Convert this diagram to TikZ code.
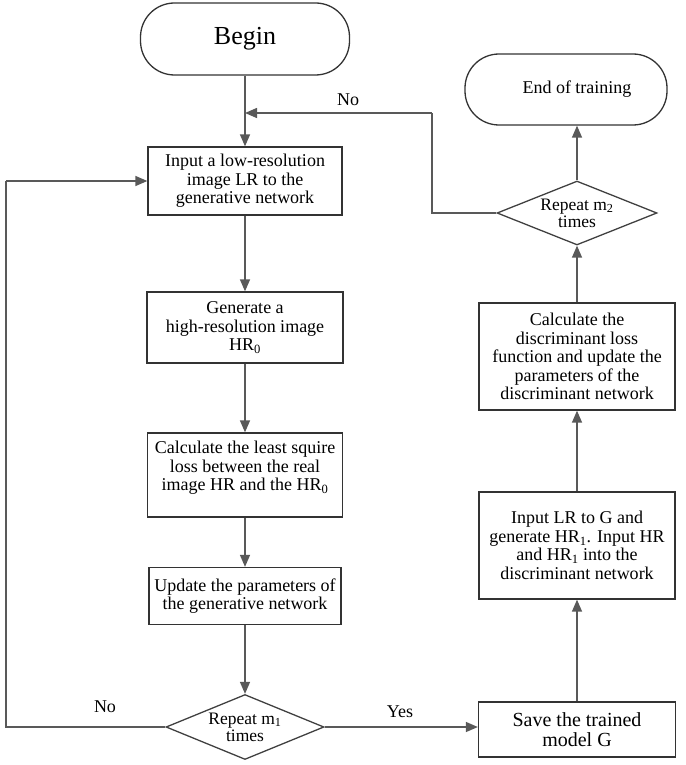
\documentclass[tikz,border=0pt]{standalone}
\usepackage{fontspec}
\setmainfont{Liberation Serif}[Ligatures=TeX]
\usetikzlibrary{arrows.meta,shapes.geometric}
\begin{document}
\begin{tikzpicture}[x=1pt,y=-1pt,
  box/.style={draw=black!80,line width=1.3pt,align=center,inner sep=2pt,font=\fontsize{18}{18.5}\selectfont},
  term/.style={box,rounded corners=34pt},
  dia/.style={draw=black!75,line width=1.3pt,diamond,inner sep=0pt},
  dtext/.style={align=center,font=\fontsize{17.5}{17}\selectfont},
  lbl/.style={font=\fontsize{18}{18}\selectfont},
  conn/.style={draw=black!65,line width=1.4pt},
  arr/.style={conn,-{Triangle[length=12pt,width=10pt]}}]
\useasboundingbox (0,0) rectangle (685,765);
\node[term,minimum width=209pt,minimum height=72pt,font=\fontsize{26}{28}\selectfont] (begin) at (245,39) {Begin};
\node[box,minimum width=194pt,minimum height=68pt] (in1) at (245,181) {Input a low-resolution\\image LR to the\\generative network};
\node[box,minimum width=196pt,minimum height=71pt] (gen) at (245,327.5) {Generate a\\high-resolution image\\HR\textsubscript{0}};
\node[box,minimum width=195pt,minimum height=84pt] (calc) at (245,475) {Calculate the least squire\\loss between the real\\image HR and the HR\textsubscript{0}\\\mbox{}};
\node[box,minimum width=192pt,minimum height=57pt] (upd) at (245,596) {Update the parameters of\\the generative network};
\node[dia,minimum width=158pt,minimum height=65pt] (d1) at (245,727) {};
\node[dtext] (d1t) at (d1.center) {Repeat m\textsubscript{1}\\times};
\node[box,minimum width=197pt,minimum height=55pt,font=\fontsize{20}{20}\selectfont] (save) at (577,729.5) {Save the trained\\model G};
\node[box,minimum width=196pt,minimum height=107pt] (inlr) at (577,545.5) {Input LR to G and\\generate HR\textsubscript{1}. Input HR\\and HR\textsubscript{1} into the\\discriminant network};
\node[box,minimum width=196pt,minimum height=107pt] (cdisc) at (577,356.5) {Calculate the\\discriminant loss\\function and update the\\parameters of the\\discriminant network};
\node[dia,minimum width=160pt,minimum height=64pt] (d2) at (577,213) {};
\node[dtext] (d2t) at (d2.center) {Repeat m\textsubscript{2}\\times};
\node[term,minimum width=202pt,minimum height=71pt] (end) at (566,89.5) {\hspace*{22pt}End of training};
\coordinate (j1) at (245,113);
\coordinate (c2) at (432,113);
\coordinate (lp) at (6,181);
% connectors
\draw[arr] (begin.south) -- (in1.north);
\draw[arr] (in1.south) -- (gen.north);
\draw[arr] (gen.south) -- (calc.north);
\draw[arr] (calc.south) -- (upd.north);
\draw[arr] (upd.south) -- (d1.north);
\draw[conn] (d1.west) -| (lp);
\draw[arr] (lp) -- (in1.west);
\draw[arr] (d1.east) -- (d1.east -| save.west);
\draw[arr] (save.north) -- (inlr.south);
\draw[arr] (inlr.north) -- (cdisc.south);
\draw[arr] (cdisc.north) -- (d2.south);
\draw[arr] (d2.north) -- (d2.north |- end.south);
\draw[conn] (d2.west) -| (c2);
\draw[arr] (c2) -- (j1);
% labels
\node[lbl] (lno1) at (348,100) {No};
\node[lbl] (lno2) at (105,707) {No};
\node[lbl] (lyes) at (400,712) {Yes};
\end{tikzpicture}
\end{document}
